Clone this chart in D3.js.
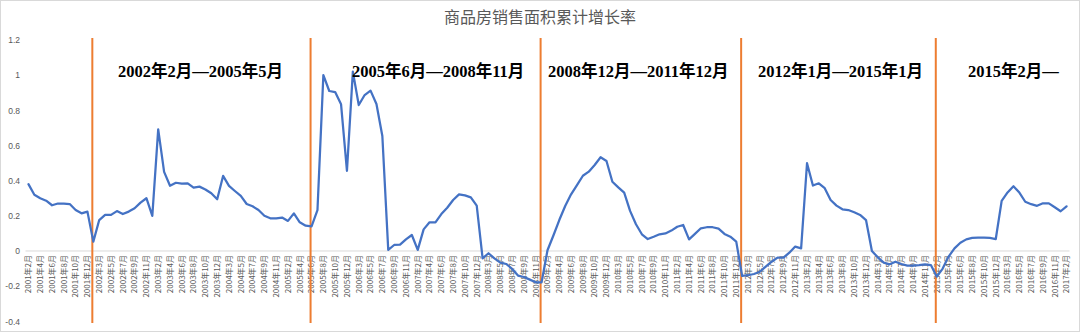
<!DOCTYPE html>
<html>
<head>
<meta charset="utf-8">
<script src="https://cdn.jsdelivr.net/npm/d3@7"></script>
<style>
html,body{margin:0;padding:0;background:#fff;}
svg{display:block;}
</style>
</head>
<body>
<svg id="chart" width="1080" height="332"></svg>
<script>
// ---- DATA ----
const title = "商品房销售面积累计增长率";

const categories = [
  "2001年2月","2001年3月","2001年4月","2001年5月","2001年6月","2001年7月","2001年8月","2001年9月","2001年10月","2001年11月","2001年12月",
  "2002年2月","2002年3月","2002年4月","2002年5月","2002年6月","2002年7月","2002年8月","2002年9月","2002年10月","2002年11月","2002年12月",
  "2003年2月","2003年3月","2003年4月","2003年5月","2003年6月","2003年7月","2003年8月","2003年9月","2003年10月","2003年11月","2003年12月",
  "2004年2月","2004年3月","2004年4月","2004年5月","2004年6月","2004年7月","2004年8月","2004年9月","2004年10月","2004年11月","2004年12月",
  "2005年2月","2005年3月","2005年4月","2005年5月","2005年6月","2005年7月","2005年8月","2005年9月","2005年10月","2005年11月","2005年12月",
  "2006年2月","2006年3月","2006年4月","2006年5月","2006年6月","2006年7月","2006年8月","2006年9月","2006年10月","2006年11月","2006年12月",
  "2007年2月","2007年3月","2007年4月","2007年5月","2007年6月","2007年7月","2007年8月","2007年9月","2007年10月","2007年11月","2007年12月",
  "2008年2月","2008年3月","2008年4月","2008年5月","2008年6月","2008年7月","2008年8月","2008年9月","2008年10月","2008年11月","2008年12月",
  "2009年2月","2009年3月","2009年4月","2009年5月","2009年6月","2009年7月","2009年8月","2009年9月","2009年10月","2009年11月","2009年12月",
  "2010年2月","2010年3月","2010年4月","2010年5月","2010年6月","2010年7月","2010年8月","2010年9月","2010年10月","2010年11月","2010年12月",
  "2011年2月","2011年3月","2011年4月","2011年5月","2011年6月","2011年7月","2011年8月","2011年9月","2011年10月","2011年11月","2011年12月",
  "2012年2月","2012年3月","2012年4月","2012年5月","2012年6月","2012年7月","2012年8月","2012年9月","2012年10月","2012年11月","2012年12月",
  "2013年2月","2013年3月","2013年4月","2013年5月","2013年6月","2013年7月","2013年8月","2013年9月","2013年10月","2013年11月","2013年12月",
  "2014年2月","2014年3月","2014年4月","2014年5月","2014年6月","2014年7月","2014年8月","2014年9月","2014年10月","2014年11月","2014年12月",
  "2015年2月","2015年3月","2015年4月","2015年5月","2015年6月","2015年7月","2015年8月","2015年9月","2015年10月","2015年11月","2015年12月",
  "2016年2月","2016年3月","2016年4月","2016年5月","2016年6月","2016年7月","2016年8月","2016年9月","2016年10月","2016年11月","2016年12月",
  "2017年2月"
];

const growthRate = [
  0.38, 0.32, 0.30, 0.286, 0.26, 0.27, 0.27, 0.267, 0.233, 0.214, 0.224,
  0.053, 0.176, 0.205, 0.205, 0.227, 0.21, 0.224, 0.243, 0.275, 0.30, 0.20,
  0.692, 0.45, 0.371, 0.388, 0.383, 0.385, 0.36, 0.366, 0.35, 0.328, 0.294,
  0.427, 0.37, 0.341, 0.313, 0.267, 0.254, 0.233, 0.20, 0.186, 0.186, 0.19,
  0.171, 0.214, 0.163, 0.144, 0.14, 0.232, 1.0, 0.91, 0.904, 0.834, 0.456,
  1.02, 0.83, 0.887, 0.912, 0.836, 0.654, 0.006, 0.034, 0.036, 0.066, 0.091,
  0.006, 0.123, 0.163, 0.163, 0.21, 0.246, 0.29, 0.322, 0.316, 0.305, 0.258,
  -0.042, -0.013, -0.042, -0.066, -0.074, -0.102, -0.14, -0.148, -0.163, -0.178, -0.178,
  0.004, 0.088, 0.176, 0.256, 0.322, 0.375, 0.428, 0.451, 0.489, 0.533, 0.512,
  0.394, 0.362, 0.332, 0.228, 0.152, 0.095, 0.068, 0.081, 0.095, 0.10, 0.116,
  0.138, 0.148, 0.066, 0.097, 0.129, 0.135, 0.135, 0.127, 0.097, 0.081, 0.053,
  -0.142, -0.138, -0.131, -0.118, -0.089, -0.061, -0.038, -0.038, -0.01, 0.025, 0.015,
  0.499, 0.372, 0.385, 0.357, 0.29, 0.258, 0.237, 0.233, 0.22, 0.205, 0.176,
  0.0, -0.036, -0.066, -0.076, -0.061, -0.074, -0.083, -0.083, -0.08, -0.076, -0.08,
  -0.146, -0.10, -0.032, 0.015, 0.047, 0.066, 0.074, 0.076, 0.076, 0.074, 0.068,
  0.285, 0.333, 0.368, 0.332, 0.28, 0.266, 0.257, 0.271, 0.271, 0.249, 0.226,
  0.254
];

const yTickValues = [-0.4, -0.2, 0, 0.2, 0.4, 0.6, 0.8, 1, 1.2];
const yTickLabels = ["-0.4", "-0.2", "0", "0.2", "0.4", "0.6", "0.8", "1", "1.2"];

const periodStarts = ["2002年2月", "2005年6月", "2008年12月", "2012年2月", "2015年2月"];
const periodLabels = ["2002年2月—2005年5月", "2005年6月—2008年11月", "2008年12月—2011年12月", "2012年1月—2015年1月", "2015年2月—"];

// ---- CHART ----
const svg = d3.select("#chart");
const W = 1080, H = 332;

svg.append("rect").attr("x", 0.5).attr("y", 0.5).attr("width", W - 1).attr("height", H - 1)
  .attr("fill", "#fff").attr("stroke", "#d9d9d9");

const x = d3.scaleBand().domain(categories).range([25.5, 1069.5]).padding(0);
const cx = c => x(c) + x.bandwidth() / 2;
const y = d3.scaleLinear().domain([-0.4, 1.2]).range([321.3, 40]);

// title
svg.append("text").attr("x", 540).attr("y", 23).attr("text-anchor", "middle")
  .attr("font-family", "'Noto Sans CJK SC', sans-serif").attr("font-size", 16)
  .attr("fill", "#595959").text(title);

// zero axis line
svg.append("line").attr("x1", 25.5).attr("x2", 1069.5).attr("y1", y(0)).attr("y2", y(0))
  .attr("stroke", "#d9d9d9").attr("stroke-width", 1);

// y axis
const yAxis = d3.axisLeft(y).tickValues(yTickValues)
  .tickFormat((d, i) => yTickLabels[i]).tickSize(0).tickPadding(0);
const gy = svg.append("g").attr("transform", "translate(20,0)").call(yAxis);
gy.select(".domain").remove();
gy.selectAll("text").attr("font-family", "'Liberation Sans', Arial, sans-serif")
  .attr("font-size", 8.5).attr("fill", "#595959");

// x axis
const xAxis = d3.axisBottom(x).tickValues(categories.filter((d, i) => i % 2 === 0))
  .tickSize(0).tickPadding(0);
const gx = svg.append("g").attr("transform", `translate(0,${y(0)})`).call(xAxis);
gx.select(".domain").remove();
gx.selectAll("text")
  .attr("font-family", "'Noto Sans CJK SC', 'Liberation Sans', sans-serif")
  .attr("font-size", 8).attr("fill", "#595959")
  .attr("transform", "rotate(-90)")
  .attr("text-anchor", "end")
  .attr("x", -4).attr("y", 0).attr("dy", "0.35em");

// period divider lines
svg.selectAll("line.period").data(periodStarts).enter().append("line")
  .attr("class", "period")
  .attr("x1", d => cx(d) - 1).attr("x2", d => cx(d) - 1)
  .attr("y1", 38).attr("y2", 323)
  .attr("stroke", "#ED7D31").attr("stroke-width", 2);

// series line
const line = d3.line().x((d, i) => cx(categories[i])).y(d => y(d));
svg.append("path").datum(growthRate).attr("d", line)
  .attr("fill", "none").attr("stroke", "#4472C4").attr("stroke-width", 2.25)
  .attr("stroke-linejoin", "round").attr("stroke-linecap", "round");

// period labels
const labelX = [118, 352, 548, 758, 968];
svg.selectAll("text.plabel").data(periodLabels).enter().append("text")
  .attr("class", "plabel")
  .attr("x", (d, i) => labelX[i]).attr("y", 77)
  .attr("font-family", "'Liberation Serif', 'Noto Sans CJK SC', serif")
  .attr("font-weight", "bold").attr("font-size", 16.5).attr("fill", "#000")
  .text(d => d);
</script>
</body>
</html>
